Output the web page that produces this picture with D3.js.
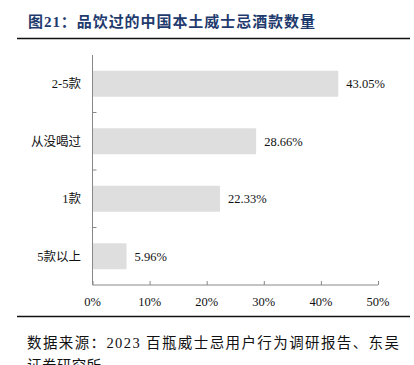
<!DOCTYPE html>
<html><head><meta charset="utf-8">
<script src="https://cdn.jsdelivr.net/npm/d3@7"></script>
<style>
html,body{margin:0;padding:0;background:#fff;}
svg{display:block;}
</style></head>
<body>
<svg id="c" width="414" height="365"></svg>
<script>
const categories = ["2-5款", "从没喝过", "1款", "5款以上"];
const values = [43.05, 28.66, 22.33, 5.96];
const xTicks = [0, 10, 20, 30, 40, 50];
const title = "图21：品饮过的中国本土威士忌酒款数量";
const source1 = "数据来源：2023 百瓶威士忌用户行为调研报告、东吴";
const source2 = "证券研究所";

const serif = "'Liberation Serif','Times New Roman','Noto Sans CJK SC',serif";
const svg = d3.select("#c");

// title
svg.append("text").attr("x", 28).attr("y", 27)
  .attr("font-family", serif).attr("font-weight", "bold").attr("font-size", 15)
  .attr("textLength", 287).attr("lengthAdjust", "spacing")
  .attr("fill", "#1f3b6e").text(title);
svg.append("line").attr("x1", 17).attr("x2", 410).attr("y1", 38.5).attr("y2", 38.5)
  .attr("stroke", "#111").attr("stroke-width", 1.6);

const x = d3.scaleLinear().domain([0, 50]).range([92.5, 378]);
const y = d3.scaleBand().domain(categories).range([55, 285]).paddingInner(0.55).paddingOuter(0.275);

// bars
svg.selectAll("rect.bar").data(values).join("rect")
  .attr("class", "bar")
  .attr("x", x(0)).attr("y", (d, i) => y(categories[i]))
  .attr("width", d => x(d) - x(0)).attr("height", y.bandwidth())
  .attr("rx", 1).attr("fill", "#dedede");

// value labels
svg.selectAll("text.val").data(values).join("text")
  .attr("class", "val")
  .attr("x", d => x(d) + 8).attr("y", (d, i) => y(categories[i]) + y.bandwidth() / 2)
  .attr("dy", "0.35em").attr("font-family", serif).attr("font-size", 12.5).attr("fill", "#111")
  .text(d => d.toFixed(2) + "%");

// x axis
const xa = svg.append("g").attr("transform", "translate(0,285)")
  .call(d3.axisTop(x).tickValues(xTicks).tickSize(4).tickFormat(""));
xa.select(".domain").attr("stroke", "#888").attr("d", `M${x(0)},0H${x(50)}`);
xa.selectAll(".tick line").attr("stroke", "#888");
svg.selectAll("text.xt").data(xTicks).join("text").attr("class", "xt")
  .attr("x", d => x(d)).attr("y", 302).attr("dy", "0.35em").attr("text-anchor", "middle")
  .attr("font-family", serif).attr("font-size", 12.5).attr("fill", "#111")
  .text(d => d + "%");

// y axis
svg.append("line").attr("x1", x(0)).attr("x2", x(0)).attr("y1", 55).attr("y2", 285)
  .attr("stroke", "#888");
const step = y.step();
const bounds = categories.slice(1).map(c => y(c) - (step - y.bandwidth()) / 2);
svg.selectAll("line.yt").data(bounds).join("line").attr("class", "yt")
  .attr("x1", x(0)).attr("x2", x(0) + 4).attr("y1", d => d).attr("y2", d => d)
  .attr("stroke", "#888");
svg.selectAll("text.yl").data(categories).join("text").attr("class", "yl")
  .attr("x", 81).attr("y", d => y(d) + y.bandwidth() / 2).attr("dy", "0.35em")
  .attr("text-anchor", "end").attr("font-family", serif).attr("font-size", 12.5).attr("fill", "#111")
  .text(d => d);

// bottom rule & source
svg.append("line").attr("x1", 17).attr("x2", 410).attr("y1", 316.5).attr("y2", 316.5)
  .attr("stroke", "#111").attr("stroke-width", 1.6);
svg.append("text").attr("x", 27).attr("y", 348)
  .attr("font-family", serif).attr("font-size", 14.5).attr("fill", "#111")
  .attr("textLength", 372).attr("lengthAdjust", "spacing").text(source1);
svg.append("text").attr("x", 27).attr("y", 371)
  .attr("font-family", serif).attr("font-size", 14.5).attr("fill", "#111")
  .attr("textLength", 74).attr("lengthAdjust", "spacing").text(source2);
</script>
</body></html>
